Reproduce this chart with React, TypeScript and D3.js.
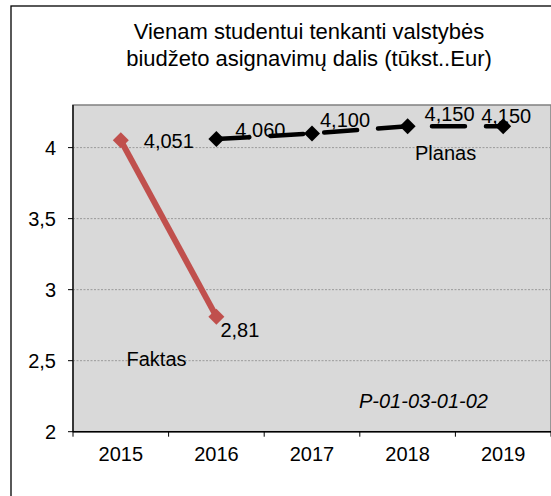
import React from "react";
import * as d3 from "d3";

const years = ["2015", "2016", "2017", "2018", "2019"];
const faktasYears = ["2015", "2016"];
const faktasValues = [4.051, 2.81];
const faktasLabels = ["4,051", "2,81"];
const planasYears = ["2016", "2017", "2018", "2019"];
const planasValues = [4.06, 4.1, 4.15, 4.15];
const planasLabels = ["4,060", "4,100", "4,150", "4,150"];
const yTicks = [2, 2.5, 3, 3.5, 4];
const yTickLabels = ["2", "2,5", "3", "3,5", "4"];
const titleLines = ["Vienam studentui tenkanti valstybės", "biudžeto asignavimų dalis (tūkst..Eur)"];

// label placement offsets (styling)
const faktasOffsets = [
  { dx: 48, dy: 7.5, anchor: "middle" },
  { dx: 4, dy: 20, anchor: "start" },
];
const planasOffsets = [
  { dx: 44, dy: -2.5 },
  { dx: 33, dy: -6 },
  { dx: 42, dy: -5 },
  { dx: 3, dy: -3.5 },
];

const W = 551;
const H = 496;
const plot = { left: 73, right: 551, top: 105, bottom: 431.7 };
const FONT = "'Liberation Sans', Arial, sans-serif";

export default function App() {
  const x = d3.scalePoint<string>().domain(years).range([plot.left, plot.right]).padding(0.5);
  const step = x.step();
  const y = d3.scaleLinear().domain([2, 4.3]).range([plot.bottom, plot.top]);

  const line = d3
    .line<[string, number]>()
    .x((d) => x(d[0]) as number)
    .y((d) => y(d[1]));

  const faktas: [string, number][] = faktasYears.map((yr, i) => [yr, faktasValues[i]]);
  const planas: [string, number][] = planasYears.map((yr, i) => [yr, planasValues[i]]);

  const diamond = (cx: number, cy: number, r: number) =>
    `M${cx},${cy - r}L${cx + r},${cy}L${cx},${cy + r}L${cx - r},${cy}Z`;

  const boundaries = d3.range(years.length + 1).map((i) => plot.left + i * step);

  return (
    <svg
      width={W}
      height={H}
      style={{ position: "absolute", left: 0, top: 0, background: "#fff" }}
      fontFamily={FONT}
    >
      <rect x={0} y={0} width={W} height={H} fill="#fff" />
      {/* outer chart border */}
      <rect x={11} y={6} width={700} height={700} fill="none" stroke="#000" strokeWidth={1.3} />

      {/* title */}
      <text x={309} y={39} textAnchor="middle" fontSize={22} fill="#000">
        {titleLines[0]}
      </text>
      <text x={309} y={66} textAnchor="middle" fontSize={22} fill="#000">
        {titleLines[1]}
      </text>

      {/* plot area */}
      <rect
        x={plot.left}
        y={plot.top}
        width={plot.right - plot.left}
        height={plot.bottom - plot.top}
        fill="#D9D9D9"
        stroke="#808080"
        strokeWidth={1.5}
      />

      {/* gridlines */}
      {yTicks
        .filter((t) => t !== 2)
        .map((t) => (
          <line
            key={"g" + t}
            x1={plot.left}
            x2={plot.right}
            y1={y(t)}
            y2={y(t)}
            stroke="#9a9a9a"
            strokeWidth={1}
            strokeDasharray="2 1.5"
          />
        ))}

      {/* axes */}
      <line x1={plot.left} x2={plot.left} y1={plot.top} y2={plot.bottom} stroke="#000" strokeWidth={1.3} />
      <line x1={plot.left} x2={plot.right} y1={plot.bottom} y2={plot.bottom} stroke="#000" strokeWidth={1.5} />

      {yTicks.map((t, i) => (
        <g key={"yt" + t}>
          <line x1={plot.left - 5} x2={plot.left} y1={y(t)} y2={y(t)} stroke="#000" strokeWidth={1} />
          <text x={56} y={y(t) + 7} textAnchor="end" fontSize={20} fill="#000">
            {yTickLabels[i]}
          </text>
        </g>
      ))}

      {boundaries.map((bx, i) => (
        <line key={"xt" + i} x1={bx} x2={bx} y1={plot.bottom} y2={plot.bottom + 5} stroke="#000" strokeWidth={1} />
      ))}
      {years.map((yr) => (
        <text key={"xl" + yr} x={x(yr)} y={460.5} textAnchor="middle" fontSize={20} fill="#000">
          {yr}
        </text>
      ))}

      {/* Faktas series */}
      <path d={line(faktas) || ""} fill="none" stroke="#C0504D" strokeWidth={6} />
      {faktas.map((d, i) => (
        <path key={"fm" + i} d={diamond(x(d[0]) as number, y(d[1]), 8)} fill="#C0504D" />
      ))}

      {/* Planas series */}
      <path
        d={line(planas) || ""}
        fill="none"
        stroke="#000"
        strokeWidth={4.5}
        strokeDasharray="33 21"
        strokeLinecap="round"
      />
      {planas.map((d, i) => (
        <path key={"pm" + i} d={diamond(x(d[0]) as number, y(d[1]), 8)} fill="#000" />
      ))}

      {/* data labels */}
      {faktas.map((d, i) => (
        <text
          key={"fl" + i}
          x={(x(d[0]) as number) + faktasOffsets[i].dx}
          y={y(d[1]) + faktasOffsets[i].dy}
          textAnchor={faktasOffsets[i].anchor}
          fontSize={20}
          fill="#000"
        >
          {faktasLabels[i]}
        </text>
      ))}
      {planas.map((d, i) => (
        <text
          key={"pl" + i}
          x={(x(d[0]) as number) + planasOffsets[i].dx}
          y={y(d[1]) + planasOffsets[i].dy}
          textAnchor="middle"
          fontSize={20}
          fill="#000"
        >
          {planasLabels[i]}
        </text>
      ))}

      {/* series names & code */}
      <text x={126.5} y={366} fontSize={20} fill="#000">
        Faktas
      </text>
      <text x={415} y={159.5} fontSize={20} fill="#000">
        Planas
      </text>
      <text x={359} y={408} fontSize={20} fontStyle="italic" fill="#000">
        P-01-03-01-02
      </text>
    </svg>
  );
}
